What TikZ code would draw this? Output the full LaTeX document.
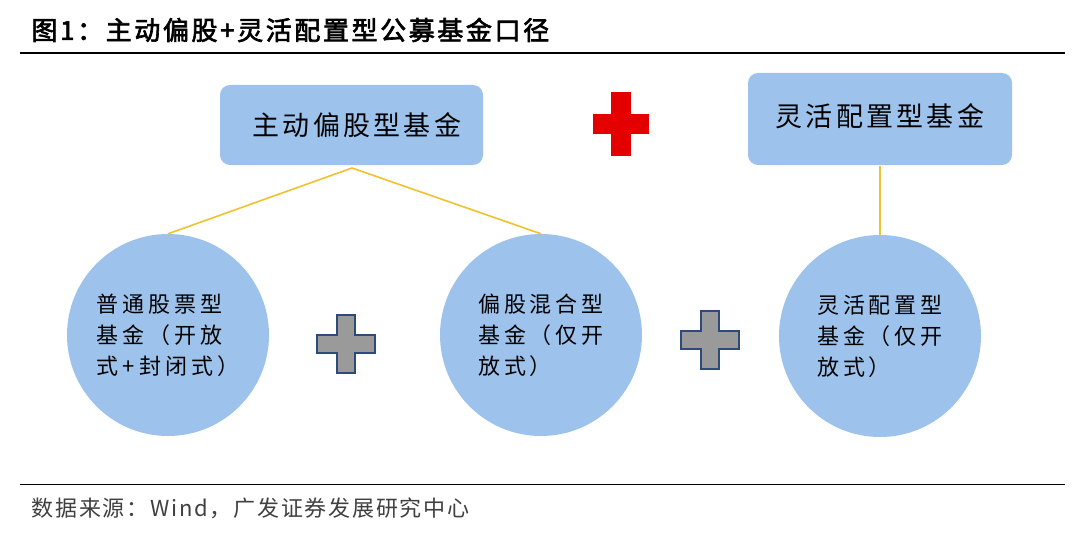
\documentclass[tikz,border=0pt]{standalone}
\usepackage{fontspec}
\newfontfamily\cjk[AutoFakeBold=2.5]{Noto Sans CJK SC}
\newfontfamily\cjkt[AutoFakeBold=2.5,LetterSpace=10]{Noto Sans CJK SC}
\newfontfamily\cjks[LetterSpace=8]{Noto Sans CJK SC}
\newfontfamily\cjksp[LetterSpace=18]{Noto Sans CJK SC}
\newfontfamily\cjkbsp[LetterSpace=12]{Noto Sans CJK SC}
\definecolor{lb}{HTML}{9DC3EC}
\definecolor{yl}{HTML}{F2C12E}
\definecolor{gr}{HTML}{9A9A9A}
\definecolor{db}{HTML}{2E4A7A}
\begin{document}
\begin{tikzpicture}[x=1pt,y=-1pt,
  box/.style={fill=lb,rounded corners=10pt},
  circ/.style={circle,fill=lb,minimum size=202pt,inner sep=0pt,align=left,font=\cjksp\fontsize{22}{31}\selectfont},
  conn/.style={yl,line width=1.6pt}]
\useasboundingbox (0,0) rectangle (1080,543);
\fill[white] (0,0) rectangle (1080,543);
\node[anchor=west,font=\cjkt\bfseries\fontsize{26}{28}\selectfont] (title) at (28,30) {图1：主动偏股+灵活配置型公募基金口径};
\draw[line width=1.2pt] (20,53) -- (1065,53);
\fill[box] (220,85) rectangle (483,165);
\node[font=\cjkbsp\fontsize{27}{30}\selectfont] (b1) at (357,125) {主动偏股型基金};
\fill[box] (748,73) rectangle (1012,165);
\node[font=\cjkbsp\fontsize{27}{30}\selectfont] (b2) at (880,116) {灵活配置型基金};
\coordinate (b1s) at (352,168);
\coordinate (b2s) at (880,166);
\fill[red!90!black] (611,92) rectangle (631,156);
\fill[red!90!black] (593,114) rectangle (649,134);
\node[circ] (c1) at (168,335) {普通股票型\\基金（开放\\式+封闭式）};
\node[circ] (c2) at (541,335) {偏股混合型\\基金（仅开\\放式）};
\node[circ] (c3) at (880,336) {灵活配置型\\基金（仅开\\放式）};
\draw[conn] (b1s) -- (c1.north);
\draw[conn] (b1s) -- (c2.north);
\draw[conn] (b2s) -- (c3.north);
\foreach \cx/\cy in {346/344,710/340}{
\draw[fill=gr,draw=db,line width=1.5pt] (\cx-9,\cy-29) -- (\cx+9,\cy-29) -- (\cx+9,\cy-9) -- (\cx+29,\cy-9) -- (\cx+29,\cy+9) -- (\cx+9,\cy+9) -- (\cx+9,\cy+29) -- (\cx-9,\cy+29) -- (\cx-9,\cy+9) -- (\cx-29,\cy+9) -- (\cx-29,\cy-9) -- (\cx-9,\cy-9) -- cycle;}
\draw[line width=1pt] (20,484) -- (1065,484);
\node[anchor=west,text=black!75,font=\cjks\fontsize{22}{24}\selectfont] (src) at (28,508) {数据来源：Wind，广发证券发展研究中心};
\end{tikzpicture}
\end{document}
